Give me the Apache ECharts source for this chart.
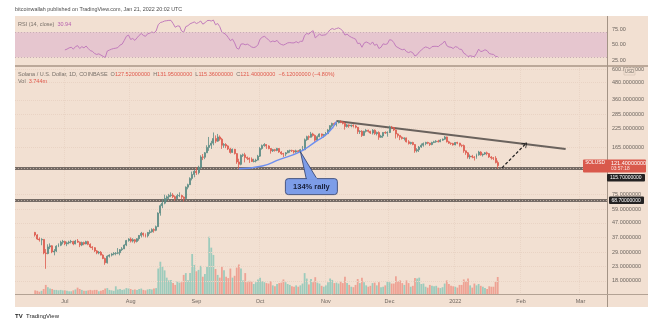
<!DOCTYPE html>
<html><head><meta charset="utf-8">
<script src="https://cdn.jsdelivr.net/npm/echarts@6/dist/echarts.min.js"></script>
<style>html,body{margin:0;padding:0;background:#fff}#c{width:664px;height:323px}</style>
</head><body><div id="c"></div><script>
// ---------------- DATA ----------------
const startDate = '2021-06-17';     // first daily candle
const rsiStartDate = '2021-07-01';  // first RSI(14) value
const firstOpen = 40.2;
const closes = [
 38.5,36.0,35.5,35.8,28.6,28.3,31.6,32.2,29.1,29.5,32.0,32.5,34.2,34.6,
 33.3,33.8,34.3,34.6,33.2,34.8,34.2,32.6,34.0,33.2,34.5,33.0,31.6,31.2,29.6,28.6,28.9,27.6,26.1,24.3,27.1,27.6,28.1,28.4,28.5,28.7,30.2,30.6,32.6,35.1,36.0,
 34.8,35.6,34.6,36.2,38.2,39.6,38.6,38.0,40.1,40.6,42.1,41.6,44.2,55.3,62.5,65.2,70.5,72.4,74.1,74.5,72.6,70.2,73.8,74.0,72.1,70.3,85.0,88.5,98.2,104.8,110.5,
 108,118,140,139.5,150,164,170,176,190,182,195,188,170,172,168,160,151,159,148,129,124,144,145,139,137,135,130,131,133,142,
 161,169,172,168,161,155,158,156,161,152,148,147,150,155,156,155,152,155,153,158,158,186,196,194,205,200,185,196,205,200,203,
 206,219,235,244,240,247,252,249,244,232,238,234,237,234,229,213,214,200,214,218,214,208,218,206,210,194,198,210,208,210,
 229,228,219,205,200,194,190,192,180,175,178,172,155,158,165,170,175,178,176,172,178,180,182,180,185,188,195,180,176,175,171,
 178,176,170,169,155,150,140,142,140,139,145,152,145,147,150,148,140,138,137,127.52,121.4
];
const highs = [
 40.5,39,37,36.5,36,30.5,33,33.5,32.5,30.5,32.5,33.5,35,35.5,
 35,34.5,35,35.5,35,35.5,36,34.5,34.5,34.5,35,35,33.5,32,31.5,30,29.5,29.5,28,26.5,27.5,28,28.5,29,29,31,30.5,31.5,33,35.5,36.5,
 37,36.5,36,36.5,38.5,40.5,40,39.5,40.5,42,43,43,45,56,64,70,75,74,76,78,77,74,76,78,75,73,86,90,100,110,113,
 118,121,144,147,152,170,195,183,210,200,205,200,192,176,176,170,163,161,160,149,136,146,148,150,141,139,139,136,136,145,
 165,172,176,173,170,162,160,160,163,162,154,150,152,157,158,158,157,158,157,160,168,190,199,200,212,209,203,200,207,206,205,
 212,222,237,247,248,252,256,257,253,250,242,240,239,240,238,230,218,218,216,222,220,216,222,221,213,214,202,211,214,214,
 235,234,230,220,207,200,197,194,193,185,180,180,173,162,168,175,178,180,180,177,180,183,185,186,188,190,198,196,183,178,177,
 179,180,177,172,172,156,152,146,145,142,148,155,154,148,152,153,149,142,140,142,131.95
];
const lows = [
 37.5,35.5,34.5,32.5,28,22,28,30.5,28.5,27.5,29,31.5,32,33,
 32.5,32,33,33.5,32.5,33,33.8,31.5,32,32.5,33,32.5,31,30,29,28,28,27.5,25.8,23.5,24,26.5,27,27.5,27.5,28,27.5,29.5,30.5,32,34.5,
 34,34,33.5,34,35,37,37.5,37,37,39,40,40,41,44,53,60,64,67,69,72,71,68,70,72,69,67,70,82,88,95,100,
 104,105,115,133,135,150,155,160,170,176,180,183,160,163,162,157,148,150,146,125,115,122,140,128,133,127,129,128,128,132,
 140,158,166,160,159,148,152,153,154,150,145,140,142,149,150,152,148,150,150,151,155,157,183,186,193,196,180,182,194,195,193,
 198,205,215,228,236,232,244,245,240,220,228,227,229,228,225,205,205,195,198,210,210,205,203,202,200,186,192,192,205,196,
 208,222,215,190,193,185,187,184,178,172,172,170,150,151,152,163,166,170,173,168,170,176,177,178,179,183,186,178,174,171,169,
 170,173,166,165,150,145,136,135,137,132,136,143,143,141,145,144,138,134,133,126,115.36
];
const volumes = [ // millions
 0.8,0.7,0.5,0.7,1.1,2.0,1.5,1.2,1.1,0.9,0.9,0.8,0.9,0.8,
 0.8,0.7,0.6,0.6,0.8,1.0,1.4,1.1,0.9,0.7,0.7,0.8,0.9,0.8,0.9,0.9,0.6,0.7,0.9,1.2,1.3,0.9,0.8,0.7,1.7,1.0,1.1,0.9,1.0,1.3,1.2,
 1.1,0.9,1.0,0.9,1.1,1.2,0.9,0.8,1.0,1.1,1.0,1.2,1.3,5.6,7.1,6.0,5.2,3.6,3.0,3.1,2.4,2.0,2.8,2.5,2.6,4.2,4.6,3.0,4.6,8.8,6.4,
 5.0,5.3,6.2,3.8,4.4,6.0,12.6,10.2,8.6,5.5,4.2,3.6,6.0,5.2,3.8,3.5,5.6,3.6,4.0,5.8,6.5,5.6,3.0,4.6,2.6,2.9,2.7,2.2,2.6,3.2,
 3.6,2.8,2.6,2.4,2.3,2.8,1.9,1.7,2.2,2.4,2.5,3.2,2.6,2.2,2.0,1.7,1.6,1.9,1.6,1.9,2.3,4.6,3.4,2.1,3.3,2.6,3.7,2.5,2.3,1.8,1.6,
 1.9,2.6,3.4,3.1,2.4,2.5,2.3,2.7,2.4,3.8,2.4,2.0,1.6,1.5,2.0,3.3,2.4,3.6,2.6,1.9,1.6,1.8,2.4,2.5,1.9,2.6,1.5,1.6,1.9,2.7,
 2.6,2.3,2.3,3.9,2.8,3.0,2.4,2.0,3.0,2.4,1.6,1.8,3.5,3.4,3.6,2.2,2.3,1.6,1.4,2.0,1.8,1.7,1.8,1.4,1.3,1.5,2.3,3.0,2.2,1.8,1.7,
 1.6,1.4,2.0,2.0,3.2,2.8,3.4,1.9,1.4,2.3,1.9,2.2,1.8,1.6,1.3,1.1,1.7,1.6,1.6,2.7,3.744
];
const rsiValues = [
 41.7,43,45,46,43,47,48.6,44,47,45,48,44,40.6,39.5,36,34.5,35.5,33.5,31.5,29.5,40,41.5,43,44,44.5,45.5,49.5,51,57,63.5,65.5,
 58.5,60,57,61,65,68,65,63.5,67.5,68.5,70.5,69,72,82,85.5,86.5,88,88.5,89,89,84,78,80,80,72,70,79,80.5,83.5,85,86.5,
 84,85.5,88,83,85,88.5,89,88,89.5,82,84,79,70,68.5,66,61.5,56.5,59,53,44.5,43,51,51.5,50,51,49,46.5,45.5,46.5,50,
 59,62,63.5,61,57.5,54.5,56,55,57,52.5,50.5,49.5,51,53,53.5,53,53,55,53,55.5,55.5,65,68,67,70.5,72.5,61,64,67,65,65.5,
 66,70,74,76,74.5,76,77,75,72,65.5,67,64,62,60.5,59,52,52.5,46,52.5,54.5,53,50.5,54.5,49,51,44,46,51.5,50.5,51.5,
 58,57.5,53.5,47.5,45.5,43.5,42,43,39,37.5,39,37,32,34,38.5,41.5,44.5,46.5,45.5,43.5,47,47.5,47.5,47,50,52,56,48.5,46.5,46,44,
 47,46,43,42.5,36.5,34.5,31,32.5,31.5,31,36,43,39,40,42,40.5,36,35,34.5,31.5,30.94
];
const monthDates = ['2021-07-01','2021-08-01','2021-09-01','2021-10-01','2021-11-01','2021-12-01','2022-01-01','2022-02-01','2022-03-01'];
const monthNames = ['Jul','Aug','Sep','Oct','Nov','Dec','2022','Feb','Mar'];
const priceTicks = [18,23,29,37,47,59,75,165,225,285,360,480,600];
const rsiTicks = [25,50,75];
const rsiBand = [30,70];
const levels = [115.7, 68.7];
const rallyCurve = [['2021-09-21',115],['2021-10-02',120.5],['2021-10-10',134],['2021-10-20',153],['2021-10-27',180],['2021-11-02',208],['2021-11-06',251]];
const trendLine = [['2021-11-06',254],['2022-02-22',160]];
const projection = [['2022-01-23',117],['2022-02-03',173]];
const calloutAnchor = ['2021-10-20',153];
const lastClose = 121.4;

// ---------------- BUILD ----------------
const axisStart = Date.UTC(2021,5,8), axisDays = 279, DAY = 86400000;
const categories = [];
for (let i = 0; i < axisDays; i++) categories.push(new Date(axisStart + i*DAY).toISOString().slice(0,10));
const s0 = categories.indexOf(startDate), r0 = categories.indexOf(rsiStartDate);
const candleData = categories.map(() => '-');
const volData = categories.map(() => '-');
const rsiData = categories.map(() => '-');
const UP = '#5b8c84', DOWN = '#dd5a4e', VUP = '#9dcbbc', VDOWN = '#eea294';
closes.forEach((c, k) => {
  const o = k === 0 ? firstOpen : closes[k-1];
  candleData[s0+k] = [o, c, lows[k], highs[k]];
  volData[s0+k] = {value: volumes[k], itemStyle: {color: c >= o ? VUP : VDOWN}};
});
rsiValues.forEach((v, k) => { rsiData[r0+k] = v; });

const FONT = 'Liberation Sans, Arial, sans-serif';
const tickLbl = (v) => v.toFixed(7);
const priceTickLines = priceTicks.map(v => ({
  yAxis: v,
  lineStyle: {color: '#e9d3c4', type: 'dotted', width: 1},
  label: {show: true, position: 'end', distance: 5, formatter: tickLbl(v), color: '#6e6660', fontSize: 5.5, fontFamily: FONT}
}));
const levelLines = [];
levels.forEach(v => {
  levelLines.push({yAxis: v, lineStyle: {color: '#756b65', width: 3, type: 'solid'}, label: {show: false}});
  levelLines.push({yAxis: v, lineStyle: {color: '#b9aaa0', width: 1, type: [1,2]}, label: {show: false}});
});
const ci = d => categories.indexOf(d);

const option = {
  animation: false,
  backgroundColor: '#ffffff',
  textStyle: {fontFamily: FONT},
  grid: [
    {left: 15, right: 57, top: 16, height: 50},
    {left: 15, right: 57, top: 66, height: 228},
    {left: 15, right: 57, top: 214, height: 80}
  ],
  xAxis: [0,1,2].map(g => ({
    type: 'category', gridIndex: g, data: categories, boundaryGap: true,
    axisLine: {show: false}, axisTick: {show: false},
    axisLabel: g === 2 ? {
      show: true, color: '#6e6660', fontSize: 5.5, margin: 4,
      interval: (idx, val) => monthDates.indexOf(val) >= 0,
      formatter: val => monthNames[monthDates.indexOf(val)]
    } : {show: false},
    splitLine: g === 1 ? {show: true, interval: (idx, val) => monthDates.indexOf(val) >= 0, lineStyle: {color: '#ead5c6', type: 'dotted'}} : {show: false}
  })),
  yAxis: [
    {type: 'value', gridIndex: 0, min: 16, max: 96, position: 'right', axisLine: {show: false}, axisTick: {show: false}, axisLabel: {show: false}, splitLine: {show: false}},
    {type: 'log', logBase: 10, gridIndex: 1, min: 14.5, max: 631, position: 'right', axisLine: {show: false}, axisTick: {show: false}, axisLabel: {show: false}, splitLine: {show: false}},
    {type: 'value', gridIndex: 2, min: 0, max: 17.6, position: 'right', axisLine: {show: false}, axisTick: {show: false}, axisLabel: {show: false}, splitLine: {show: false}}
  ],
  series: [
    {
      type: 'line', xAxisIndex: 0, yAxisIndex: 0, data: rsiData, symbol: 'none',
      lineStyle: {color: '#c27cbc', width: 1}, z: 3,
      markArea: {silent: true, itemStyle: {color: '#e6c6cf'}, data: [[{yAxis: rsiBand[0]}, {yAxis: rsiBand[1]}]]},
      markLine: {silent: true, symbol: 'none', data: [
        ...rsiBand.map(v => ({yAxis: v, lineStyle: {color: '#c9aeb5', type: [1,2], width: 1}, label: {show: false}})),
        ...rsiTicks.map(v => ({yAxis: v, lineStyle: {color: 'rgba(0,0,0,0)', width: 0}, label: {show: true, position: 'end', distance: 5, formatter: v.toFixed(2), color: '#6e6660', fontSize: 5.5, fontFamily: FONT}}))
      ]}
    },
    {
      type: 'bar', xAxisIndex: 2, yAxisIndex: 2, data: volData, barWidth: '85%', z: 1
    },
    {
      type: 'candlestick', xAxisIndex: 1, yAxisIndex: 1, data: candleData, barWidth: '70%', z: 3,
      itemStyle: {color: UP, color0: DOWN, borderColor: UP, borderColor0: DOWN, borderWidth: 0.8},
      markLine: {
        silent: true, symbol: 'none', z: 2,
        data: [
          ...priceTickLines,
          ...levelLines,
          [{coord: [ci(trendLine[0][0]), trendLine[0][1]], lineStyle: {color: '#6a625d', width: 2, type: 'solid'}, label: {show: false}},
           {coord: [ci(trendLine[1][0]), trendLine[1][1]]}],
          [{coord: [ci(projection[0][0]), projection[0][1]], symbol: 'none', lineStyle: {color: '#1e1e1e', width: 1.2, type: [3,2]}, label: {show: false}},
           {coord: [ci(projection[1][0]), projection[1][1]], symbol: 'path://M0,10 L5,0 L10,10 L8.6,10 L5,2.8 L1.4,10 Z', symbolSize: [7,5]}]
        ]
      }
    },
    {
      type: 'line', xAxisIndex: 1, yAxisIndex: 1, smooth: 0.5, symbol: 'none', z: 4,
      data: rallyCurve.map(p => [ci(p[0]), p[1]]),
      lineStyle: {color: '#6d8ff0', width: 1.5}
    }
  ]
};

const chart = echarts.init(document.getElementById('c'), null, {width: 664, height: 323});
chart.setOption(option);

// ---------------- OVERLAYS ----------------
const pY = chart.convertToPixel({yAxisIndex: 1}, lastClose);
const l2Y = chart.convertToPixel({yAxisIndex: 1}, levels[1]);
const anc = chart.convertToPixel({gridIndex: 1}, [ci(calloutAnchor[0]), calloutAnchor[1]]);
const G = '#787069', R = '#e0594c';
const txt = (x, y, text, extra, z) => ({type: 'text', z: z || 60, style: Object.assign({x, y, text, font: '5.5px ' + FONT, fill: G, verticalAlign: 'middle'}, extra || {})});
chart.setOption({graphic: [
  {type: 'rect', z: -10, shape: {x: 15, y: 16, width: 633, height: 291}, style: {fill: '#f2e0d2'}},
  {type: 'line', z: 50, shape: {x1: 15, y1: 66, x2: 648, y2: 66}, style: {stroke: '#a89686', lineWidth: 1.5}},
  {type: 'line', z: 50, shape: {x1: 607.5, y1: 16, x2: 607.5, y2: 307}, style: {stroke: '#a39385', lineWidth: 1}},
  {type: 'line', z: 50, shape: {x1: 15, y1: 294.5, x2: 648, y2: 294.5}, style: {stroke: '#b3a294', lineWidth: 1}},
  txt(15, 10, 'bitcoinwallah published on TradingView.com, Jan 21, 2022 20:02 UTC', {fill: '#4d4d4d', font: '5.4px ' + FONT}),
  {type: 'text', z: 60, style: {x: 18, y: 24, verticalAlign: 'middle', font: '5.5px ' + FONT, text: '{g|RSI (14, close)}  {p|30.94}', rich: {g: {fill: G, fontSize: 5.5}, p: {fill: '#b65fae', fontSize: 5.5}}}},
  {type: 'text', z: 60, style: {x: 18, y: 74, verticalAlign: 'middle', font: '5.5px ' + FONT,
    text: '{g|Solana / U.S. Dollar, 1D, COINBASE  O}{r|127.52000000}{g|  H}{r|131.95000000}{g|  L}{r|115.36000000}{g|  C}{r|121.40000000}{r|  −6.12000000 (−4.80%)}',
    rich: {g: {fill: G, fontSize: 5.5}, r: {fill: R, fontSize: 5.5}}}},
  {type: 'text', z: 60, style: {x: 18, y: 81.5, verticalAlign: 'middle', font: '5.5px ' + FONT, text: '{g|Vol}  {r|3.744m}', rich: {g: {fill: G, fontSize: 5.5}, r: {fill: R, fontSize: 5.5}}}},
  // USD tag
  {type: 'rect', z: 60, shape: {x: 624, y: 68, width: 11, height: 7}, style: {fill: '#f2e0d2', stroke: '#c9b8aa', lineWidth: 0.5}},
  txt(629.5, 71.5, 'USD', {align: 'center', font: '4.5px ' + FONT}, 61),
  // last price label
  {type: 'rect', z: 60, shape: {x: 583, y: pY - 6, width: 63, height: 13, r: 1}, style: {fill: '#d9594c'}},
  txt(595, pY - 2.5, 'SOLUSD', {fill: '#fff', align: 'center', font: '4.8px ' + FONT}, 61),
  txt(611, pY - 2.5, '121.40000000', {fill: '#fff'}, 61),
  txt(611, pY + 3.5, '03:57:18', {fill: '#fbe3df', font: '4.8px ' + FONT}, 61),
  // level labels
  {type: 'rect', z: 60, shape: {x: 607, y: pY + 8.5, width: 38, height: 7.5, r: 1}, style: {fill: '#242222'}},
  txt(610, pY + 12.3, '115.70000000', {fill: '#fff', font: '5px ' + FONT}, 61),
  {type: 'rect', z: 60, shape: {x: 609, y: l2Y - 3.5, width: 35, height: 7.5, r: 1}, style: {fill: '#242222'}},
  txt(611.5, l2Y + 0.3, '68.70000000', {fill: '#fff', font: '5px ' + FONT}, 61),
  // callout
  {type: 'polygon', z: 70, shape: {points: [[anc[0], anc[1]], [anc[0] + 6, anc[1] + 28], [anc[0] + 17, anc[1] + 28]]}, style: {fill: '#7d9de8', stroke: '#2f3d6a', lineWidth: 0.8}},
  {type: 'rect', z: 71, shape: {x: anc[0] - 15, y: anc[1] + 27, width: 52, height: 16, r: 3}, style: {fill: '#7d9de8', stroke: '#2f3d6a', lineWidth: 0.8}},
  {type: 'rect', z: 72, shape: {x: anc[0] + 6.5, y: anc[1] + 26, width: 10, height: 2}, style: {fill: '#7d9de8'}},
  txt(anc[0] + 11, anc[1] + 35.5, '134% rally', {fill: '#18203a', align: 'center', font: 'bold 7.5px ' + FONT}, 80),
  // logo
  {type: 'text', z: 60, style: {x: 15, y: 316, verticalAlign: 'middle', text: '{b|TV} {t|TradingView}', rich: {b: {fill: '#1f1f1f', fontSize: 6, fontWeight: 'bold'}, t: {fill: '#1f1f1f', fontSize: 6}}}}
]});
</script></body></html>
